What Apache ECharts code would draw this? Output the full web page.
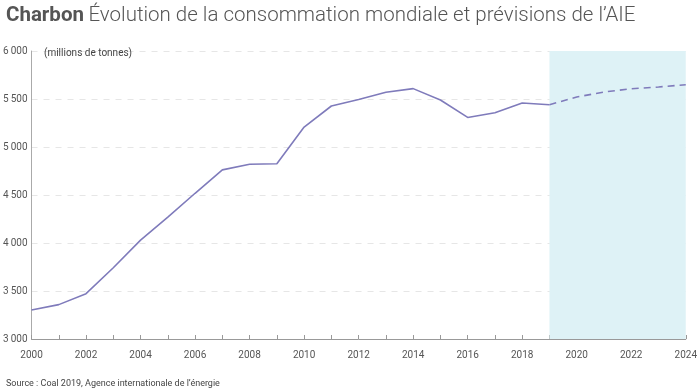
<!DOCTYPE html>
<html><head><meta charset="utf-8">
<script src="https://cdn.jsdelivr.net/npm/echarts@6/dist/echarts.min.js"></script>
<style>html,body{margin:0;padding:0;background:#fff}#c{width:700px;height:388px}</style>
</head><body><div id="c"></div>
<script>
const years = ['2000','2001','2002','2003','2004','2005','2006','2007','2008','2009','2010','2011','2012','2013','2014','2015','2016','2017','2018','2019','2020','2021','2022','2023','2024'];
const historique = [3303,3358,3472,3742,4030,4270,4518,4762,4820,4826,5208,5427,5495,5570,5608,5490,5308,5357,5458,5440,null,null,null,null,null];
const prevision = [null,null,null,null,null,null,null,null,null,null,null,null,null,null,null,null,null,null,null,5440,5521,5573,5607,5625,5649];
const yTicks = [3000,3500,4000,4500,5000,5500,6000];

const chart = echarts.init(document.getElementById('c'), null, {renderer:'canvas'});
const FONT = 'Roboto';
const fmt = v => { const s = String(v); return s.length > 3 ? s.slice(0, s.length-3) + '\u2009' + s.slice(-3) : s; };
chart.setOption({
  animation:false,
  textStyle:{fontFamily:FONT},
  title:[{
    text:'{b|Charbon} {l|Évolution de la consommation mondiale et prévisions de l’AIE}',
    left:1, top:0,
    textStyle:{rich:{
      b:{fontFamily:FONT,fontWeight:'bold',fontSize:20.5,color:'#555'},
      l:{fontFamily:FONT,fontWeight:300,fontSize:20.5,color:'#555'}
    }}
  },{
    text:'(millions de tonnes)', left:39, top:43,
    textStyle:{fontFamily:FONT,fontWeight:'normal',fontSize:10,color:'#444'}
  },{
    text:'Source : Coal 2019, Agence internationale de l’énergie', left:1, top:374,
    textStyle:{fontFamily:FONT,fontWeight:'normal',fontSize:9,color:'#444'}
  }],
  grid:{left:30,right:11,top:51,bottom:49,containLabel:false},
  xAxis:{
    type:'category', data:years, boundaryGap:false,
    axisLine:{lineStyle:{color:'#999',width:1}},
    axisTick:{inside:true,length:4,interval:0,lineStyle:{color:'#999'}},
    axisLabel:{interval:1,margin:11,fontSize:10,color:'#555',fontFamily:FONT,showMaxLabel:true},
    splitLine:{show:false}
  },
  yAxis:{
    type:'value', min:yTicks[0], max:yTicks[yTicks.length-1], interval:500,
    axisLine:{show:true,lineStyle:{color:'#aaa',width:1}},
    axisTick:{show:false},
    axisLabel:{margin:4,fontSize:10,color:'#555',fontFamily:FONT,formatter:fmt},
    splitLine:{show:true,lineStyle:{color:'#e6e6e6',type:[6,6],width:1}}
  },
  series:[{
    type:'line', data:historique, symbol:'none', z:3,
    lineStyle:{color:'#7f7bbb',width:1.6},
    markArea:{silent:true,itemStyle:{color:'#def2f6'},data:[[{xAxis:'2019'},{xAxis:'2024'}]]}
  },{
    type:'line', data:prevision, symbol:'none', z:3,
    lineStyle:{color:'#7f7bbb',width:1.6,type:[7,5]}
  }]
});
</script></body></html>
